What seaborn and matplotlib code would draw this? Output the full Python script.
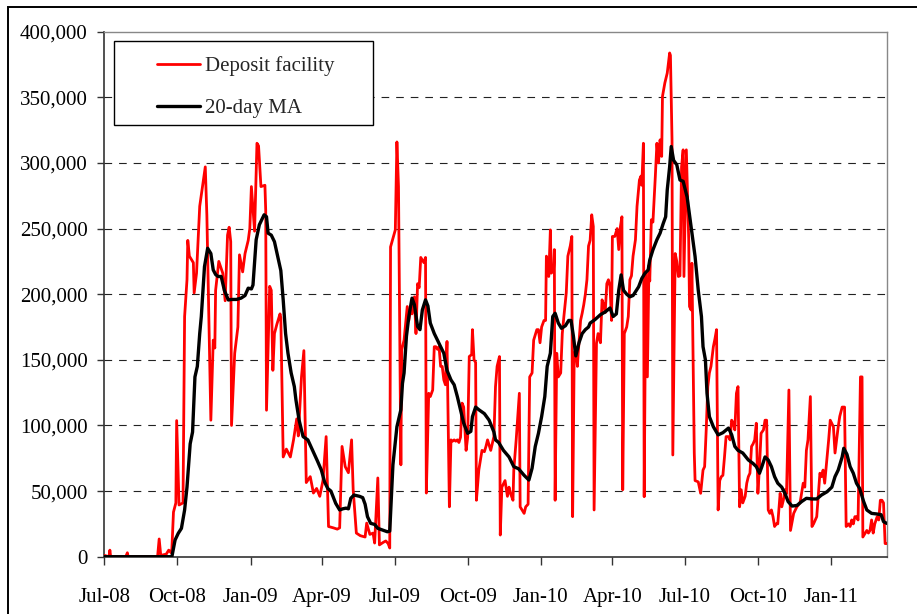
import numpy as np
import pandas as pd
import matplotlib
matplotlib.use("Agg")
import matplotlib.pyplot as plt
import matplotlib.dates as mdates
from matplotlib.ticker import FuncFormatter
from matplotlib.patches import Rectangle
import seaborn as sns

# ---------------- data ----------------
start_date = "2008-07-01"   # day 0 of the series
end_day = 984               # last observation (about 11 Mar 2011)

# Deposit facility, days since start / EUR million (thousands)
red_day = [0, 6, 7, 8, 27, 29, 30, 67, 69, 71, 78, 81, 84, 85, 87, 90, 91, 94, 99, 101,
           104, 105, 107, 112, 113, 116, 120, 123, 127, 129, 134, 137, 139, 140, 144, 149, 152, 155, 157, 159,
           160, 164, 168, 170, 174, 177, 181, 183, 185, 187, 189, 192, 194, 197, 202, 203, 204, 208, 210, 212,
           214, 217, 221, 222, 225, 229, 234, 238, 242, 244, 248, 251, 254, 259, 263, 267, 271, 275, 279, 282,
           288, 293, 296, 299, 303, 307, 311, 313, 317, 322, 328, 330, 334, 338, 340, 344, 346, 351, 354, 357,
           359, 360, 366, 368, 370, 373, 374, 377, 381, 383, 385, 387, 390, 392, 394, 396, 398, 400, 402, 404,
           405, 408, 410, 413, 415, 417, 419, 421, 423, 425, 427, 429, 431, 434, 436, 438, 440, 442, 444, 446,
           448, 450, 452, 455, 457, 459, 462, 463, 465, 467, 468, 471, 475, 478, 480, 482, 486, 490, 492, 494,
           497, 498, 500, 504, 507, 509, 511, 514, 515, 518, 522, 523, 528, 530, 533, 535, 538, 540, 544, 546,
           548, 550, 553, 555, 556, 559, 561, 562, 565, 566, 567, 569, 571, 574, 576, 578, 581, 583, 586, 588,
           589, 591, 593, 595, 596, 599, 601, 603, 605, 607, 609, 611, 613, 615, 616, 619, 621, 624, 626, 628,
           630, 632, 634, 636, 638, 639, 642, 645, 647, 649, 651, 652, 654, 657, 659, 661, 663, 665, 668, 670,
           673, 675, 676, 678, 679, 681, 683, 685, 686, 688, 690, 693, 695, 697, 699, 701, 702, 705, 708, 711,
           712, 714, 715, 718, 720, 722, 724, 726, 728, 729, 732, 735, 736, 738, 739, 742, 743, 747, 750, 753,
           755, 757, 759, 761, 763, 766, 768, 770, 772, 774, 776, 778, 780, 782, 785, 787, 789, 791, 793, 795,
           797, 799, 801, 803, 806, 808, 810, 812, 814, 816, 818, 820, 822, 824, 826, 829, 831, 833, 835, 837,
           839, 841, 843, 845, 847, 850, 852, 854, 856, 858, 861, 863, 867, 871, 875, 879, 881, 883, 885, 888,
           890, 892, 896, 900, 902, 904, 906, 911, 913, 917, 919, 921, 923, 925, 928, 931, 933, 936, 938, 940,
           942, 944, 946, 948, 951, 953, 954, 957, 959, 961, 963, 965, 967, 969, 972, 974, 976, 978, 980, 982,
           984]
red_val = [1, 0, 5, 0, 0, 3, 0, 0, 13.5, 1, 2, 5, 3, 6, 34, 41, 103.7, 39.4, 41, 183,
           211, 241, 229, 224, 201, 216, 267, 280, 297, 260, 104, 165, 159, 203, 225, 216, 195, 245, 251, 240,
           100, 155, 175, 230, 217, 231, 241, 250, 282, 265, 248, 315, 313, 282, 283, 264, 111.6, 206, 203, 142,
           170, 177, 185, 182, 76, 82, 76, 89, 105, 92, 137, 157, 56.5, 61, 48.5, 52, 46, 58, 91.5, 23,
           22, 21, 22, 84, 68.6, 64, 89, 51, 18, 16, 15, 25.6, 17, 18, 10.4, 60, 9, 11, 12, 10,
           6.6, 236, 249, 316, 282, 70, 157.6, 165, 190.6, 180, 188, 185, 198, 170, 208, 205, 228, 226, 224, 228,
           48.5, 124.5, 122, 127, 160, 160, 158, 160, 145, 145, 134.7, 131, 164, 38, 89, 88, 89, 88, 89, 87,
           91, 117, 114, 81, 91, 152.5, 154, 173, 150, 148, 43, 66, 81, 80, 84, 89, 81, 91.5, 129.6, 145,
           152.5, 16.5, 53, 58, 46, 53, 48, 43, 66, 89, 124.5, 38, 33, 38, 40, 137, 140, 165, 173, 173,
           163, 175, 180, 180, 229, 213.5, 249, 216, 218, 234, 43, 155, 137, 140, 170, 183, 201, 229, 236.7, 244,
           30.5, 155, 157, 145, 155, 180, 185.5, 192, 200, 211, 236.7, 241, 260.5, 251.6, 35.6, 162.7, 170, 163, 195.7, 192,
           186, 208, 211, 206, 180, 244, 244, 250, 234, 251, 259, 51, 170, 175, 183, 211, 214, 229, 241.5, 267,
           287, 290, 283, 315, 45.7, 216, 137, 222, 210, 256.7, 255, 289.7, 315, 300, 317.6, 305, 350.7, 361, 368.5, 383.8,
           382, 317.6, 77.5, 231, 225, 213.5, 214, 297, 310, 213.5, 310, 241.5, 190.6, 188, 223.6, 79, 58, 57, 48.3, 66,
           68.6, 96.6, 129.6, 140, 145, 160, 166, 173, 35.6, 58, 61, 62, 76, 91.5, 91.5, 89, 104, 102, 96.6, 124.5,
           129.6, 38, 51, 41, 46, 56, 61, 63.6, 84, 86, 89, 101.7, 48.3, 68.6, 94, 96.6, 104, 104, 35.6, 33,
           35.6, 30.5, 23, 25, 25, 48.3, 38, 43, 51, 48, 127, 20, 33, 38, 41, 56, 53, 81, 89, 122,
           23, 25, 30.5, 63.6, 61, 66, 56, 89, 104, 99, 79, 89, 99, 107, 114, 114, 23, 25, 23, 28,
           25, 30.5, 30.5, 28, 137, 137, 15, 18, 20, 18, 20, 28, 18, 25, 30.5, 28, 43, 43, 41, 10,
           10]

# 20-day moving average, days since start / EUR million (thousands)
ma_day = [0, 85, 89, 93, 97, 101, 104, 108, 111, 114, 117, 120, 122, 126, 130, 134, 137, 140, 143, 147,
          151, 156, 160, 166, 172, 177, 181, 185, 187, 191, 195, 201, 204, 206, 210, 214, 218, 222, 225, 228,
          231, 235, 239, 241, 245, 250, 256, 262, 268, 273, 277, 281, 285, 291, 296, 300, 304, 307, 310, 314,
          321, 325, 328, 331, 335, 340, 344, 350, 356, 359, 363, 368, 371, 373, 375, 377, 380, 383, 387, 390,
          394, 397, 400, 404, 407, 410, 415, 419, 423, 427, 431, 436, 440, 444, 448, 452, 457, 461, 463, 467,
          471, 478, 484, 490, 492, 496, 502, 509, 515, 521, 528, 534, 538, 542, 546, 550, 554, 557, 561, 564,
          567, 571, 575, 580, 584, 587, 590, 593, 597, 601, 605, 609, 611, 617, 624, 630, 636, 640, 644, 647,
          650, 653, 657, 661, 665, 672, 676, 680, 684, 686, 690, 695, 699, 703, 706, 708, 711, 713, 716, 720,
          724, 728, 733, 738, 743, 747, 751, 753, 756, 758, 761, 766, 772, 778, 785, 789, 793, 797, 803, 810,
          816, 820, 824, 827, 831, 835, 839, 843, 847, 852, 856, 860, 865, 871, 877, 883, 890, 896, 902, 909,
          915, 919, 923, 928, 930, 934, 938, 942, 946, 950, 955, 959, 965, 971, 977, 980, 984]
ma_val = [0, 0, 12.7, 17.8, 21.6, 35.6, 53, 86, 95, 137, 145, 170, 183, 221, 235, 231, 218.5, 215, 213.5, 213.5,
          203, 195.6, 196, 196, 197, 199, 204.6, 204, 207, 241.5, 252.9, 260.5, 259, 246.5, 245, 240, 229, 218, 195.6, 170,
          155, 140, 129.6, 119.5, 104, 91.5, 89, 81, 73, 66, 57, 52, 50, 40.7, 35.6, 36.5, 37, 36.5, 44.5, 47,
          46, 45, 40, 30.5, 25.4, 24.6, 21.6, 20.3, 19, 19.5, 70, 99, 106.7, 112, 132, 140, 168, 183, 197, 192,
          175.4, 173, 188, 195.7, 191, 178, 170, 165, 160, 155, 142, 134.7, 131, 122, 112, 101.7, 94, 95.5, 106.7, 114,
          112, 109, 104, 95, 89, 87, 81, 76, 68.6, 67, 62, 58.4, 67.4, 84, 94, 106.7, 122, 145, 155, 183,
          185.5, 178, 174, 176, 180, 180, 168, 153, 163, 170, 173, 175, 178, 180.6, 184.4, 186.5, 189.5, 183, 185, 203,
          214.7, 203, 200, 198, 199, 205.6, 212, 216, 218.5, 226, 233.8, 241.5, 246.5, 254, 259, 279.5, 297, 312.5, 302, 298.6,
          287, 286, 274, 251.6, 228.7, 203, 183, 160, 150, 124.5, 106.7, 99, 92.8, 94.5, 98, 93, 84, 81, 79, 73.7,
          71, 68.6, 63.6, 68.6, 76, 73.7, 68.6, 61, 56, 53, 48.3, 42, 38.6, 39, 42, 44.5, 44, 44, 47, 49.5,
          53, 61, 66, 76, 82.6, 78, 68.6, 63.6, 56, 52, 42, 35.6, 33, 32.6, 32, 26.7, 25.4]

series_names = ["Deposit facility", "20-day MA"]
y_ticks = [0, 50000, 100000, 150000, 200000, 250000, 300000, 350000, 400000]
x_tick_months = [1, 4, 7, 10]

# ---------------- build frames ----------------
t0 = pd.Timestamp(start_date)
df_red = pd.DataFrame({"date": t0 + pd.to_timedelta(red_day, unit="D"),
                       "value": np.array(red_val) * 1000.0})
df_ma = pd.DataFrame({"date": t0 + pd.to_timedelta(ma_day, unit="D"),
                      "value": np.array(ma_val) * 1000.0})

# ---------------- style ----------------
sns.set_style("white")
plt.rcParams["font.family"] = ["Liberation Serif", "DejaVu Serif"]
plt.rcParams["lines.scale_dashes"] = False

W, H = 917, 614
fig = plt.figure(figsize=(W / 100, H / 100), dpi=100)
fig.patch.set_facecolor("white")
ax = fig.add_axes([104.3 / W, 1 - 556.7 / H, (886.7 - 104.3) / W, (556.7 - 31.7) / H])

sns.lineplot(data=df_red, x="date", y="value", ax=ax, color="#ff0000", linewidth=2.0,
             estimator=None, sort=False, label=series_names[0], zorder=3)
sns.lineplot(data=df_ma, x="date", y="value", ax=ax, color="black", linewidth=2.4,
             estimator=None, sort=False, label=series_names[1], zorder=4)

ax.set_xlim(t0, t0 + pd.Timedelta(days=end_day))
ax.set_ylim(y_ticks[0], y_ticks[-1])
ax.set_yticks(y_ticks)
ax.yaxis.set_major_formatter(FuncFormatter(lambda v, p: f"{int(round(v)):,}"))
ax.xaxis.set_major_locator(mdates.MonthLocator(bymonth=x_tick_months))
ax.xaxis.set_major_formatter(mdates.DateFormatter("%b-%y"))
ax.set_xlabel("")
ax.set_ylabel("")

ax.tick_params(axis="y", left=True, direction="out", length=5, width=1, color="#333333",
               pad=7, labelsize=15, labelcolor="black")
ax.tick_params(axis="x", bottom=True, direction="out", length=5.5, width=1, color="#333333",
               pad=17, labelsize=15, labelcolor="black")

for s in ["top", "right"]:
    ax.spines[s].set_color("#888888")
    ax.spines[s].set_linewidth(1.0)
for s in ["left", "bottom"]:
    ax.spines[s].set_color("#333333")
    ax.spines[s].set_linewidth(1.2)

# dashed horizontal gridlines (not at 0 or at the top)
ax.yaxis.grid(True, linestyle=(0, (5.5, 5.0)), color="#222222", linewidth=0.8)
ax.xaxis.grid(False)
gl = ax.yaxis.get_gridlines()
gl[0].set_visible(False)
gl[-1].set_visible(False)

# legend with square frame
handles, labels = ax.get_legend_handles_labels()
if ax.get_legend() is not None:
    ax.get_legend().remove()
box = Rectangle((114 / W, 1 - 125 / H), (373 - 114) / W, (125 - 41) / H,
                transform=fig.transFigure, facecolor="white", edgecolor="black",
                linewidth=1.0, zorder=6)
ax.add_patch(box)
box.set_clip_on(False)
leg = ax.legend(handles, labels, loc="upper left", bbox_to_anchor=(157 / W, 1 - 56.5 / H),
                bbox_transform=fig.transFigure, frameon=False, borderpad=0,
                handlelength=2.06, handletextpad=0.25, labelspacing=1.08, fontsize=15,
                borderaxespad=0)
leg.set_zorder(7)

# outer frame of the figure (cropped at right and bottom)
frame = Rectangle((7.5 / W, -1.0), 2.0, 1.0 + (1 - 6.5 / H), transform=fig.transFigure,
                  fill=False, edgecolor="black", linewidth=1.4)
fig.add_artist(frame)

fig.savefig("out.png", dpi=100)
